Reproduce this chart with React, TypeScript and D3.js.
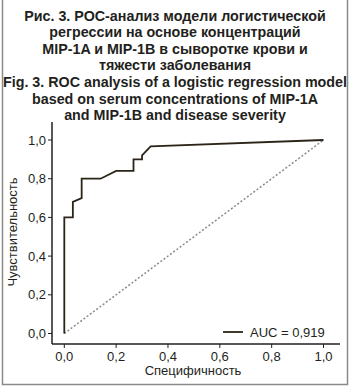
import React from "react";
import * as d3 from "d3";

const titleLines = [
  "Рис. 3. РОС-анализ модели логистической",
  "регрессии на основе концентраций",
  "MIP-1A и MIP-1B в сыворотке крови и",
  "тяжести заболевания",
  "Fig. 3. ROC analysis of a logistic regression model",
  "based on serum concentrations of MIP-1A",
  "and MIP-1B and disease severity",
];
const rocX = [0, 0, 0.033, 0.033, 0.067, 0.067, 0.14, 0.2, 0.267, 0.267, 0.3, 0.3, 0.333, 1.0];
const rocY = [0, 0.6, 0.6, 0.68, 0.7, 0.8, 0.8, 0.84, 0.84, 0.9, 0.9, 0.92, 0.967, 1.0];
const ticks = [0, 0.2, 0.4, 0.6, 0.8, 1.0];
const aucLabel = "AUC = 0,919";
const xLabel = "Специфичность";
const yLabel = "Чувствительность";

const W = 350, H = 388;
const FONT = "'Liberation Sans', Arial, sans-serif";

export default function App() {
  const x = d3.scaleLinear().domain([0, 1]).range([64.3, 323.5]);
  const y = d3.scaleLinear().domain([0, 1]).range([333.5, 140]);
  const line = d3.line<number>().x((d) => x(rocX[d])).y((d) => y(rocY[d]));
  const idx = rocX.map((_, i) => i);
  const fmt = (v: number) => v.toFixed(1).replace(".", ",");
  const axisX0 = 52, axisY0 = 344;
  return (
    <svg width={W} height={H} style={{ position: "absolute", left: 0, top: 0 }} fontFamily={FONT}>
      <rect x={0} y={0} width={W} height={H} fill="#fff" />
      <path d={`M2.5,0 V384.5 H347.5 V0`} fill="none" stroke="#8a8a86" strokeWidth={1.5} />
      {titleLines.map((t, i) => (
        <text key={i} x={175} y={20.5 + i * 16.6} textAnchor="middle" fontSize={14.3} fontWeight="bold" fill="#231f20">
          {t}
        </text>
      ))}
      {/* axes */}
      <line x1={axisX0} x2={axisX0} y1={122} y2={axisY0} stroke="#231f20" strokeWidth={1.5} />
      <line x1={axisX0} x2={340} y1={axisY0} y2={axisY0} stroke="#231f20" strokeWidth={1.5} />
      {ticks.map((t) => (
        <g key={"y" + t}>
          <line x1={axisX0 - 4} x2={axisX0} y1={y(t)} y2={y(t)} stroke="#231f20" strokeWidth={1} />
          <text x={axisX0 - 6} y={y(t) + 4.5} textAnchor="end" fontSize={13} fill="#231f20">
            {fmt(t)}
          </text>
        </g>
      ))}
      {ticks.map((t) => (
        <g key={"x" + t}>
          <line x1={x(t)} x2={x(t)} y1={axisY0} y2={axisY0 + 4} stroke="#231f20" strokeWidth={1} />
          <text x={x(t)} y={axisY0 + 17} textAnchor="middle" fontSize={13} fill="#231f20">
            {fmt(t)}
          </text>
        </g>
      ))}
      <text x={193} y={375} textAnchor="middle" fontSize={13} fill="#231f20">{xLabel}</text>
      <text transform={`translate(17,232) rotate(-90)`} textAnchor="middle" fontSize={13} fill="#231f20">{yLabel}</text>
      {/* diagonal */}
      <line x1={x(0)} y1={y(0)} x2={x(1)} y2={y(1)} stroke="#8a8a8a" strokeWidth={1.5} strokeDasharray="2,2" />
      <path d={line(idx) || ""} fill="none" stroke="#2b2418" strokeWidth={1.8} />
      {/* legend */}
      <line x1={223} x2={243} y1={332} y2={332} stroke="#2b2418" strokeWidth={1.8} />
      <text x={250} y={337} fontSize={13} fill="#231f20">{aucLabel}</text>
    </svg>
  );
}
